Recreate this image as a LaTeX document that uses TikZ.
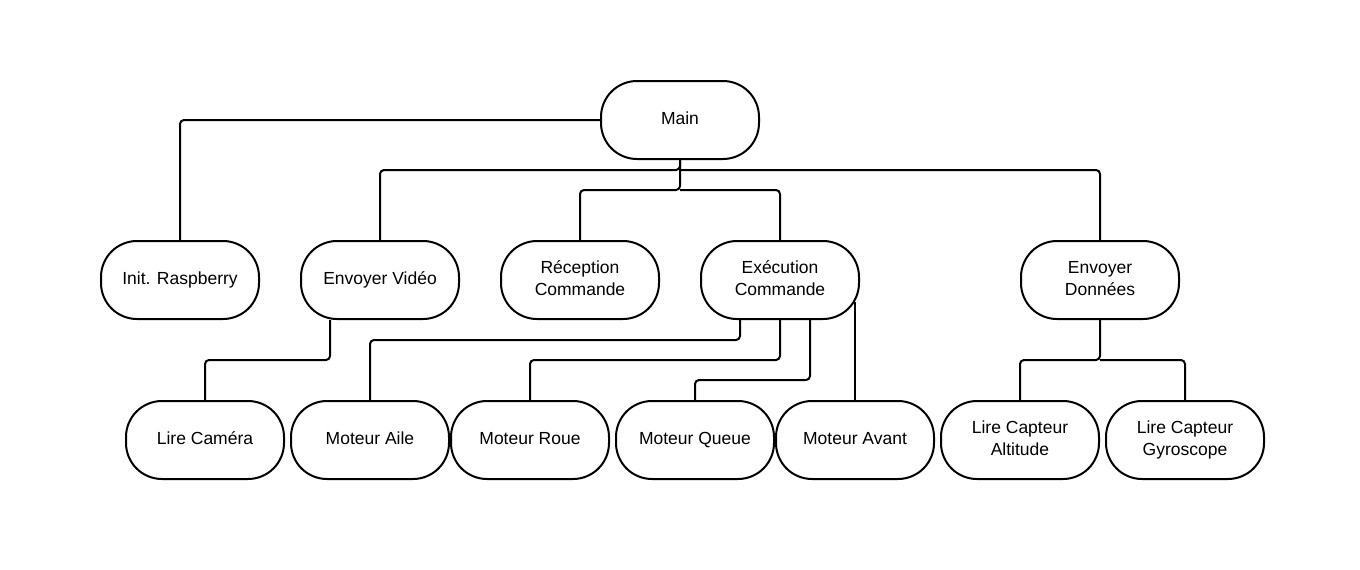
\documentclass[tikz,border=0pt]{standalone}
\usepackage{fontspec}
\setmainfont{Liberation Sans}
\begin{document}
\begin{tikzpicture}[x=1pt,y=-1pt,
  box/.style={draw,line width=2pt,rounded corners=36pt,minimum width=158pt,minimum height=78pt,
    align=center,font=\fontsize{17.5}{22}\selectfont,inner sep=0pt,text height=12.5pt,text depth=4pt},
  box2/.style={box,text height=35.5pt},
  conn/.style={line width=2pt,rounded corners=4pt}]
\useasboundingbox (0,0) rectangle (1360,570);
\node[box] (main) at (680,120) {Main};
\node[box] (init) at (180,280) {Init. Raspberry};
\node[box] (vid) at (380,280) {Envoyer Vidéo};
\node[box2] (rec) at (580,280) {Réception\\Commande};
\node[box2] (exe) at (780,280) {Exécution\\Commande};
\node[box2] (don) at (1100,280) {Envoyer\\Données};
\node[box] (cam) at (205,440) {Lire Caméra};
\node[box] (aile) at (370,440) {Moteur Aile};
\node[box] (roue) at (530,440) {Moteur Roue};
\node[box] (queue) at (695,440) {Moteur Queue};
\node[box] (avant) at (855,440) {Moteur Avant};
\node[box2] (alt) at (1020,440) {Lire Capteur\\Altitude};
\node[box2] (gyr) at (1185,440) {Lire Capteur\\Gyroscope};
\coordinate (b1) at (680,170);
\coordinate (b2) at (680,190);
\coordinate (ea) at (855,302);
\coordinate (b3) at (1100,360);
\draw[conn] (main.west) -| (init.north);
\draw[conn] (main.south) -- (b1) -| (vid.north);
\draw[conn] (b1) -| (don.north);
\draw[conn] (main.south) -- (b2) -| (rec.north);
\draw[conn] (b2) -| (exe.north);
\draw[conn] ([xshift=-50pt]vid.south) -- ++(0,40) -| (cam.north);
\draw[conn] ([xshift=-40pt]exe.south) -- ++(0,20) -| (aile.north);
\draw[conn] (exe.south) -- ++(0,40) -| (roue.north);
\draw[conn] ([xshift=30pt]exe.south) -- ++(0,60) -| (queue.north);
\draw[conn] (ea) -- (avant.north);
\draw[conn] (don.south) -- (b3) -| (alt.north);
\draw[conn] (b3) -| (gyr.north);
\end{tikzpicture}
\end{document}
